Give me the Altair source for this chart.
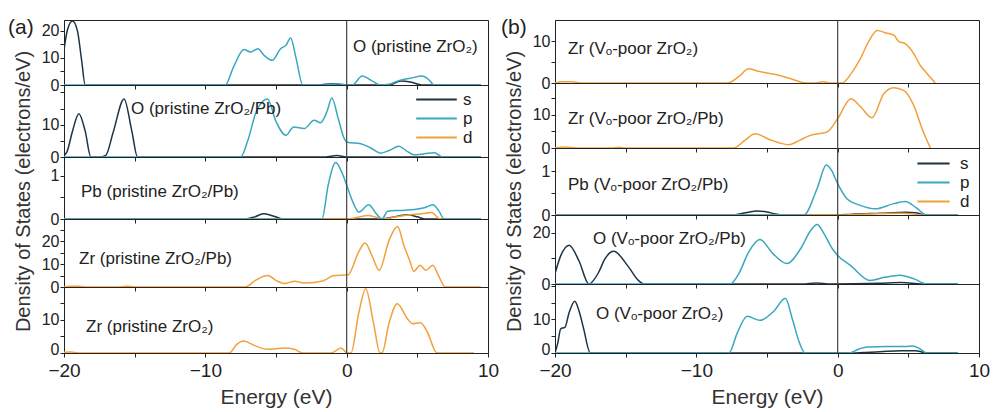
import altair as alt
import pandas as pd

FONT = "Liberation Sans"
TXT = "#222222"
ORBITALS = ["s", "p", "d"]
COLORS = ["#1c3445", "#3aa7c1", "#f3a03a"]
X_TICKS = [-20, -15, -10, -5, 0, 5, 10]
Y_TITLE = "Density of States (electrons/eV)"
X_TITLE = "Energy (eV)"

# ---------------- (a) pristine ----------------
a1_label = "O (pristine ZrO₂)"
a1_s_E = [-20, -19.75, -19.4, -19.05, -18.75, -18.5, -17, -2, -1, -0.2, 3, 3.8, 4.6, 5.3, 9.5]
a1_s_y = [13, 20.5, 23.6, 20, 9, 0, 0, 0, 0.5, 0, 0, 1.5, 1.0, 0, 0]
a1_p_E = [-20, -8.6, -8.0, -7.27, -6.8, -6.28, -5.85, -5.26, -4.67, -4.3, -3.96, -3.6, -3.1, -1.5,
          -0.6, 0.0, 0.4, 1.1, 1.8, 2.4, 3.0, 3.8, 4.5, 5.35, 5.8, 6.2, 9.5]
a1_p_y = [0, 0, 6.7, 13.1, 12.2, 13.4, 11, 9.1, 13.4, 14.7, 17.4, 10.4, 0, 0,
          0.5, 0, 0, 3.3, 1.5, 0, 0.3, 1.8, 2.5, 3.3, 2.0, 0, 0]

a2_label = "O (pristine ZrO₂/Pb)"
a2_s_E = [-20, -19.8, -19.4, -18.95, -18.5, -18.1, -17.5, -17.05, -16.5, -15.75, -15.2, -14.8, -1.5, -0.7, 0, 9.5]
a2_s_y = [0.5, 1.5, 8, 13.4, 8, 0, 0, 0.5, 8, 18, 8, 0, 0, 0.5, 0, 0]
a2_p_E = [-20, -7.5, -7.0, -6.4, -5.6, -5.0, -4.3, -3.75, -3.0, -2.3, -1.85, -1.4, -1.05, -0.6, -0.2,
          0.05, 1.0, 1.7, 2.4, 3.0, 3.7, 4.2, 4.75, 5.5, 6.2, 6.8, 9.5]
a2_p_y = [0, 0, 5, 14, 18, 11, 6.7, 9.3, 8.8, 11.4, 10.6, 14, 18.3, 12, 6,
          4.6, 4.1, 2.8, 1.2, 2.0, 3.3, 2.0, 0.7, 1.0, 1.3, 0, 0]

a3_label = "Pb (pristine ZrO₂/Pb)"
a3_s_E = [-20, -7.2, -6.5, -5.9, -5.2, -4.5, 0, 2.5, 3.5, 4.3, 5.0, 5.5, 9.5]
a3_s_y = [0, 0, 0.05, 0.12, 0.07, 0, 0, 0, 0.06, 0.1, 0.05, 0, 0]
a3_d_E = [-20, 0, 0.8, 1.5, 2.2, 2.6, 3.5, 4.5, 5.3, 6.0, 6.6, 9.5]
a3_d_y = [0, 0, 0.04, 0.08, 0.03, 0, 0.05, 0.1, 0.12, 0.15, 0, 0]
a3_p_E = [-20, -1.75, -1.3, -0.78, -0.3, 0.05, 0.5, 0.85, 1.56, 2.1, 2.5, 2.9, 3.8, 4.75, 5.5, 6.1, 6.5, 6.9, 9.5]
a3_p_y = [0, 0, 0.8, 1.31, 1.05, 0.74, 0.35, 0.16, 0.33, 0.12, 0, 0.18, 0.2, 0.22, 0.26, 0.33, 0.2, 0, 0]

a4_label = "Zr (pristine ZrO₂/Pb)"
a4_d_E = [-20, -19.5, -19, -18.5, -16, -15.5, -15, -7.2, -6.4, -5.6, -4.9, -4.4, -3.7, -2.9, -1.7, -0.9,
          0.1, 0.85, 1.3, 1.8, 2.3, 3.0, 3.6, 4.05, 4.5, 4.75, 5.2, 5.6, 6.1, 6.5, 7.0, 9.5]
a4_d_y = [0, 0.37, 0.37, 0, 0, 0.37, 0, 0, 3.1, 5.0, 2.5, 1.5, 2.5, 1.7, 2.6, 5.0,
          5.3, 15.3, 19.1, 13.5, 7.3, 20.3, 26.3, 18.1, 10.8, 6.8, 9.5, 7.3, 9.5, 4.9, 0, 0]

a5_label = "Zr (pristine ZrO₂)"
a5_d_E = [-20, -19.5, -19, -8.3, -7.8, -7.3, -6.55, -5.6, -4.4, -3.7, -3.1, -1.1, -0.4, 0.05, 0.3,
          0.87, 1.35, 1.9, 2.36, 2.5, 3.0, 3.58, 4.3, 4.65, 5.24, 5.7, 6.4, 9.0]
a5_d_y = [0.2, 0.3, 0, 0, 2.5, 3.6, 2.3, 1.1, 1.5, 1.1, 0, 0, 1.5, 0, 0,
          12.3, 19.3, 9, 0, 0, 9, 14.8, 10.3, 8.8, 9.1, 6.3, 0, 0]

# ---------------- (b) Vo-poor ----------------
b1_label = "Zr (Vₒ-poor ZrO₂)"
b1_d_E = [-20, -19.5, -18.8, -18, -8.0, -7.8, -7.0, -6.3, -5.6, -5.0, -4.3, -3.3, -2.2, -1.7, -1.0, -0.5,
          0.3, 1.0, 1.6, 2.2, 2.8, 3.4, 4.0, 4.3, 4.8, 5.3, 5.85, 6.4, 6.9]
b1_d_y = [0, 0.3, 0.3, 0, 0, 0, 1.5, 3.4, 2.8, 2.4, 2.0, 1.0, 0, 0, 0.3, 0,
          0, 2.5, 5.8, 10, 12.6, 12, 11.4, 10, 9.4, 7.5, 4.2, 2, 0]

b2_label = "Zr (Vₒ-poor ZrO₂/Pb)"
b2_d_E = [-20, -19.3, -18.5, -16, -15.5, -15, -7.36, -6.6, -5.83, -4.8, -3.47, -2.7, -1.93, -0.75, 0,
          0.94, 1.6, 2.43, 3.26, 3.96, 4.67, 5.38, 6.0, 6.56]
b2_d_y = [0, 0.3, 0, 0, 0.2, 0, 0, 2.2, 4.3, 2.5, 1.0, 2.3, 3.8, 4.8, 8.8,
          14.8, 12.5, 9.1, 16.3, 18.1, 17.3, 12.8, 5.5, 0]

b3_label = "Pb (Vₒ-poor ZrO₂/Pb)"
b3_s_E = [-20, -7.5, -6.5, -5.7, -5.0, -4.5, -3.8, 0, 1, 3, 4.8, 5.5, 6.3, 8.5]
b3_s_y = [0, 0, 0.05, 0.09, 0.07, 0.03, 0, 0, 0.02, 0.04, 0.06, 0.05, 0, 0]
b3_d_E = [-20, 0, 2, 4.5, 6.3, 8.5]
b3_d_y = [0, 0, 0.02, 0.04, 0, 0]
b3_p_E = [-20, -2.4, -1.46, -0.8, -0.4, -0.05, 0.66, 1.6, 2.67, 3.96, 4.8, 5.5, 6.3, 8.5]
b3_p_y = [0, 0, 0.6, 1.14, 1.0, 0.75, 0.37, 0.22, 0.14, 0.26, 0.31, 0.18, 0, 0]

b4_label = "O (Vₒ-poor ZrO₂/Pb)"
b4_s_E = [-20, -19.6, -19.0, -18.3, -17.6, -16.9, -16.5, -15.85, -14.8, -14.1, -13.7, -2.5, -1.5, -0.5, 3, 4.5, 6, 8.5]
b4_s_y = [4, 11, 15.2, 9, 0, 4.7, 9.5, 12.8, 6.7, 1.4, 0, 0, 0.4, 0, 0.3, 0.6, 0, 0]
b4_p_E = [-20, -7.6, -7.0, -6.3, -5.5, -4.6, -3.6, -2.6, -1.9, -1.45, -1.0, -0.4, 0, 0.9, 2.3, 3.3, 4.4, 5.4, 6.3, 8.5]
b4_p_y = [0, 0, 4, 12.5, 17.4, 12, 8.0, 14, 21, 23.3, 20, 14, 11.2, 7.3, 1.4, 2.6, 3.4, 2.0, 0, 0]

b5_label = "O (Vₒ-poor ZrO₂)"
b5_s_E = [-20, -19.8, -19.6, -19.3, -19.0, -18.6, -18.3, -18.0, -17.5, -2, 1, 3, 4.5, 5.5, 6.3, 8.5]
b5_s_y = [0, 3, 7.2, 7.6, 12, 15.4, 12.5, 7.7, 0, 0, 0, 0.4, 0.7, 0.7, 0, 0]
b5_p_E = [-20, -7.7, -7.1, -6.4, -5.5, -4.5, -3.7, -3.2, -2.7, -2.3, 0.8, 1.5, 2.1, 3.5, 4.8, 5.3, 5.8, 6.3, 8.5]
b5_p_y = [0, 0, 6, 10.9, 9.7, 12.5, 16.3, 10, 3, 0, 0, 1.2, 1.8, 1.9, 1.9, 2.1, 1.3, 0, 0]


def curves_df(curves):
    rows = []
    for orb, (E, y) in curves:
        for i, (e, v) in enumerate(zip(E, y)):
            rows.append({"E": e, "dos": v, "orb": orb, "i": i})
    return pd.DataFrame(rows)


def make_legend(x, y, half):
    return alt.Legend(
        orient="none", legendX=x, legendY=y, title=None,
        symbolType=f"M-{half},0H{half}", symbolSize=196, symbolStrokeWidth=1.8,
        labelFontSize=17, labelFont=FONT, labelColor=TXT, labelOffset=18,
        rowPadding=1, padding=0,
    )


def panel(curves, ymax, height, yvals, ylabs, label, lx, ly,
          bottom=False, legend=None, ytitle=None, tag=None):
    df = curves_df(curves)
    xaxis_kw = dict(values=X_TICKS, labels=bottom, tickSize=4, grid=False,
                    labelFlush=False, labelFontSize=19, labelFont=FONT, labelColor=TXT, labelPadding=4,
                    labelExpr="datum.value % 10 == 0 ? datum.label : ''")
    if bottom:
        xaxis = alt.Axis(title=X_TITLE, titleFontSize=21, titleFont=FONT,
                         titleFontWeight="normal", titleColor="#333333", titlePadding=6, **xaxis_kw)
    else:
        xaxis = alt.Axis(title=None, **xaxis_kw)
    yaxis_kw = dict(values=yvals, format=".0f", tickSize=4, grid=False, labelOverlap=False,
                    labelFontSize=16, labelFont=FONT, labelColor=TXT, labelPadding=1,
                    labelExpr=f"indexof({ylabs}, datum.value) >= 0 ? datum.label : ''")
    if bottom:
        yaxis_kw.update(labelFlush=True, labelFlushOffset=4)
    else:
        yaxis_kw.update(labelFlush=False)
    if ytitle is not None:
        yaxis = alt.Axis(title=Y_TITLE, titleX=ytitle[0], titleY=ytitle[1], titleFontSize=20,
                         titleFont=FONT, titleFontWeight="normal", titleColor="#333333", **yaxis_kw)
    else:
        yaxis = alt.Axis(title=None, **yaxis_kw)

    color = alt.Color("orb:N", scale=alt.Scale(domain=ORBITALS, range=COLORS),
                      legend=legend if legend is not None else None)
    lines = alt.Chart(df).mark_line(interpolate="monotone", strokeWidth=1.5, clip=True).encode(
        x=alt.X("E:Q", scale=alt.Scale(domain=[-20, 10], nice=False), axis=xaxis),
        y=alt.Y("dos:Q", scale=alt.Scale(domain=[0, ymax], nice=False, zero=False), axis=yaxis),
        color=color,
        order="i:Q",
    )
    zero = alt.Chart(pd.DataFrame({"E": [0]})).mark_rule(color="#444444", strokeWidth=1.2).encode(x="E:Q")
    txt = alt.Chart(pd.DataFrame({"t": [label]})).mark_text(
        align="left", baseline="middle", fontSize=17, font=FONT, color=TXT
    ).encode(text="t:N", x=alt.value(lx), y=alt.value(ly))
    layers = [lines, zero, txt]
    if tag is not None:
        layers.append(alt.Chart(pd.DataFrame({"t": [tag[0]]})).mark_text(
            align="left", baseline="middle", fontSize=21, font=FONT, color=TXT
        ).encode(text="t:N", x=alt.value(tag[1]), y=alt.value(tag[2])))
    return alt.layer(*layers).properties(width=424, height=height)


col_a = alt.vconcat(
    panel([("s", (a1_s_E, a1_s_y)), ("p", (a1_p_E, a1_p_y))], 24, 65, [0, 5, 10, 15, 20], [0, 10, 20],
          a1_label, 289, 27, tag=("(a)", -56, 8)),
    panel([("s", (a2_s_E, a2_s_y)), ("p", (a2_p_E, a2_p_y))], 22.3, 72, [0, 5, 10, 15, 20], [0, 10],
          a2_label, 67, 24, legend=make_legend(364, 6, 2.9)),
    panel([("s", (a3_s_E, a3_s_y)), ("d", (a3_d_E, a3_d_y)), ("p", (a3_p_E, a3_p_y))], 1.44, 62,
          [0, 0.5, 1], [0, 1], a3_label, 17, 35, ytitle=(-31, 34)),
    panel([("d", (a4_d_E, a4_d_y))], 29.6, 68, [0, 5, 10, 15, 20, 25], [0, 10, 20], a4_label, 15, 40),
    panel([("d", (a5_d_E, a5_d_y))], 19.8, 66, [0, 5, 10, 15], [0, 10], a5_label, 22, 40, bottom=True),
    spacing=0, bounds="flush",
).resolve_scale(y="independent", color="independent").resolve_legend(color="independent")

col_b = alt.vconcat(
    panel([("d", (b1_d_E, b1_d_y))], 15.1, 63, [0, 5, 10], [0, 10], b1_label, 13, 29, tag=("(b)", -54, 8)),
    panel([("d", (b2_d_E, b2_d_y))], 19.5, 65, [0, 5, 10, 15], [0, 10], b2_label, 13, 36),
    panel([("s", (b3_s_E, b3_s_y)), ("d", (b3_d_E, b3_d_y)), ("p", (b3_p_E, b3_p_y))], 1.53, 67,
          [0, 0.5, 1], [0, 1], b3_label, 13, 37, legend=make_legend(370, 7, 2.3), ytitle=(-31, 43)),
    panel([("s", (b4_s_E, b4_s_y)), ("p", (b4_p_E, b4_p_y))], 27, 69, [0, 10, 20], [0, 20], b4_label, 38, 24),
    panel([("s", (b5_s_E, b5_s_y)), ("p", (b5_p_E, b5_p_y))], 20.5, 69, [0, 5, 10, 15, 20], [0, 10],
          b5_label, 41, 30, bottom=True),
    spacing=0, bounds="flush",
).resolve_scale(y="independent", color="independent").resolve_legend(color="independent")

chart = alt.hconcat(col_a, col_b, spacing=0).resolve_scale(
    y="independent", color="independent"
).resolve_legend(color="independent").configure_view(
    stroke="#222222", strokeWidth=1
).configure_axis(
    domainColor="#222222", tickColor="#222222", domainWidth=1, tickWidth=1
).properties(
    padding={"left": 7, "top": 16, "right": 0, "bottom": 0}, background="white"
)

chart.save("out.html", embed_options={"renderer": "svg", "actions": False})
